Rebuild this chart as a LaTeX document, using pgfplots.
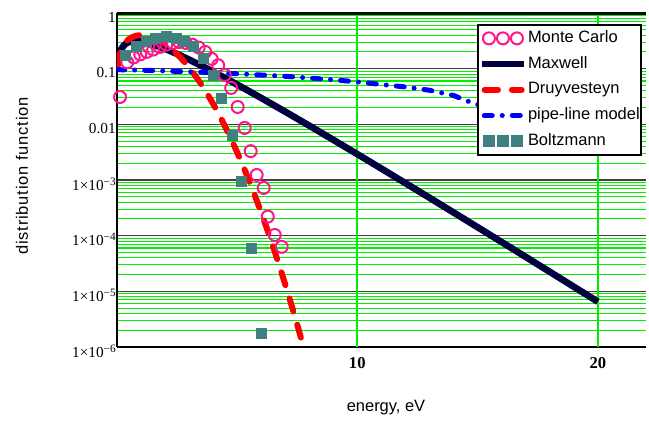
\documentclass[border=0pt]{standalone}
\usepackage{fontspec}
\setmainfont{Liberation Sans}
\newfontfamily\tnr{Liberation Serif}
\usepackage{pgfplots}
\pgfplotsset{compat=1.18}
\definecolor{mcpink}{RGB}{255,20,140}
\definecolor{maxnavy}{RGB}{0,0,64}
\definecolor{boltz}{RGB}{64,128,128}
\definecolor{gridgreen}{RGB}{0,240,0}
\newcommand{\ex}[1]{1\texttimes10\raisebox{0.75ex}{\fontsize{8.5}{9}\selectfont{\char"2212}#1}}
\begin{document}
\begin{tikzpicture}
\begin{axis}[name=ax, scale only axis, width=397bp, height=250.5bp,
  xmin=0, xmax=22, ymode=log, ymin=1e-6, ymax=1,
  axis x line=box, axis y line=left,
  axis line style={-, black, line width=1.5bp},
  every outer y axis line/.append style={-},
  every inner y axis line/.append style={-},
  xtick={10,20}, xticklabels={\textbf{10},\textbf{20}},
  xticklabel style={font=\tnr\fontsize{12.5}{14}\selectfont, yshift=-4bp},
  ytick={1e-6,1e-5,1e-4,1e-3,1e-2,1e-1,1},
  yticklabels={\ex{6},\ex{5},\ex{4},\ex{3},0.01,0.1,1},
  yticklabel style={font=\tnr\fontsize{11.5}{13}\selectfont, xshift=2.8bp, yshift=-3bp},
  minor ytick={2e-6,3e-6,4e-6,5e-6,6e-6,7e-6,8e-6,9e-6,
    2e-5,3e-5,4e-5,5e-5,6e-5,7e-5,8e-5,9e-5,
    2e-4,3e-4,4e-4,5e-4,6e-4,7e-4,8e-4,9e-4,
    2e-3,3e-3,4e-3,5e-3,6e-3,7e-3,8e-3,9e-3,
    0.02,0.03,0.04,0.05,0.06,0.07,0.08,0.09,
    0.2,0.3,0.4,0.5,0.6,0.7,0.8,0.9},
  major tick length=0pt, minor tick length=0pt,
  xmajorgrids=false, ymajorgrids=true, yminorgrids=true,
  major grid style={black!75, line width=1bp},
  minor grid style={gridgreen, line width=0.8bp},
  xlabel={energy, eV}, ylabel={distribution function},
  every axis x label/.style={at={(axis description cs:0.5,0)}, yshift=-45.75bp, xshift=3.5bp, anchor=center, font=\fontsize{12.4}{14}\selectfont},
  every axis y label/.style={at={(axis description cs:0,0.5)}, xshift=-71bp, yshift=3bp, rotate=90, anchor=center, font=\fontsize{12.4}{14}\selectfont\addfontfeature{LetterSpace=5}},
  legend cell align=left,
  legend style={at={(axis description cs:0.680,0.967)}, anchor=north west,
    draw=black, line width=1.5bp, fill=white, inner xsep=0.5bp, inner ysep=3bp,
    font=\fontsize{12.4}{14}\selectfont, row sep=5.3bp,
    nodes={inner xsep=0.3bp, inner ysep=1bp, text height=9bp, text depth=3bp},
    /tikz/every even column/.append style={column sep=3.5bp}},
]
% vertical grid lines at the x ticks
\addplot[gridgreen, line width=1.4bp, forget plot] coordinates {(10,1e-6)(10,1)};
\addplot[gridgreen, line width=1.4bp, forget plot] coordinates {(20,1e-6)(20,1)};
% Monte Carlo
\addplot[only marks, mark=o, mark size=4.5bp, mcpink, mark options={line width=1.5bp},
  legend image code/.code={\draw[mark repeat=1,mark phase=1] plot coordinates {(5.5bp,0bp) (16bp,0bp) (26.5bp,0bp)};}]
coordinates {
(0.14,0.031)(0.44,0.13)(0.71,0.16)(0.98,0.18)(1.25,0.20)(1.52,0.22)(1.79,0.245)
(2.06,0.27)(2.33,0.29)(2.6,0.30)(2.87,0.29)(3.14,0.27)(3.41,0.24)(3.68,0.20)
(3.95,0.15)(4.22,0.115)(4.49,0.077)(4.76,0.045)(5.03,0.0205)(5.32,0.0086)
(5.57,0.0033)(5.82,0.00123)(6.11,0.00072)(6.28,0.00022)(6.57,0.000103)(6.86,0.000063)
};
\addlegendentry{Monte Carlo}
% Maxwell
\addplot[maxnavy, line width=5bp, smooth,
  legend image code/.code={\draw (0bp,0bp) -- (32bp,0bp);}]
coordinates {
(0.05,0.1266)(0.1,0.1734)(0.2,0.2299)(0.4,0.2857)(0.6,0.3076)(0.8,0.3122)(1.0,0.3068)
(1.5,0.2722)(2,0.2276)(2.5,0.1843)(3,0.1462)(4,0.08856)(5,0.05194)(6,0.02985)
(7,0.01691)(8,0.009483)(9,0.005276)(10,0.002917)(11,0.001605)(12,0.000879)
(13,0.000480)(14,0.0002613)(15,0.0001419)(16,0.00007687)(17,0.00004157)
(18,0.00002243)(19,0.00001209)(20,0.000006505)
};
\addlegendentry{Maxwell}
% Druyvesteyn
\addplot[red, line width=4.5bp, line cap=round, dash pattern=on 10bp off 10.5bp, smooth,
  legend image code/.code={\draw (2.25bp,0bp) -- (30bp,0bp);}]
coordinates {
(0.05,0.1131)(0.1,0.1596)(0.2,0.2242)(0.4,0.3083)(0.6,0.3602)(0.8,0.3895)(1.0,0.4002)
(1.2,0.3953)(1.5,0.3654)(2.0,0.2798)(2.25,0.2313)(2.5,0.1845)(2.75,0.1421)(3.0,0.1060)
(3.25,0.07643)(3.5,0.05337)(3.75,0.03611)(4.0,0.02366)(4.25,0.01503)(4.5,0.009252)
(4.75,0.005524)(5.0,0.003199)(5.25,0.001795)(5.5,0.0009782)(5.75,0.0005165)
(6.0,0.0002649)(6.25,0.0001320)(6.5,0.0000636)(6.75,0.00002975)(7.0,0.00001354)
(7.25,0.000005965)(7.5,0.000002554)(7.75,0.00000106)(7.9,0.00000062)
};
\addlegendentry{Druyvesteyn}
% pipe-line model
\addplot[blue, line width=3.75bp, line cap=round, dash pattern=on 6bp off 7.5bp on 0.01bp off 7.5bp,
  legend image code/.code={\draw (2bp,0bp) -- (30bp,0bp);}]
coordinates {
(0,0.096)(1,0.094)(2,0.091)(3,0.088)(4,0.085)(5,0.081)(6,0.077)(7,0.073)
(8,0.068)(9,0.063)(10,0.058)(11,0.052)(12,0.047)(13,0.041)(14,0.033)(14.6,0.026)(15.5,0.019)
};
\addlegendentry{pipe-line model}
% Boltzmann
\addplot[only marks, mark=square*, mark size=3.75bp, boltz,
  legend image code/.code={\draw[mark repeat=1,mark phase=1] plot coordinates {(5.5bp,0bp) (16bp,0bp) (26.5bp,0bp)};}]
coordinates {
(0.34,0.176)(0.83,0.248)(1.24,0.305)(1.59,0.351)(2.07,0.376)(2.49,0.351)(2.83,0.305)
(3.18,0.248)(3.59,0.154)(4.01,0.077)(4.36,0.0294)(4.80,0.0064)(5.19,0.00093)
(5.60,0.00006)(6.02,0.0000018)
};
\addlegendentry{Boltzmann}
\draw[black, line width=2.5bp] (rel axis cs:0,1) -- (rel axis cs:1,1);
\end{axis}
\pgfresetboundingbox
\path ([shift={(-87.5bp,-55.5bp)}]ax.south west) rectangle ([shift={(2.25bp,9.75bp)}]ax.north east);
\end{tikzpicture}
\end{document}
